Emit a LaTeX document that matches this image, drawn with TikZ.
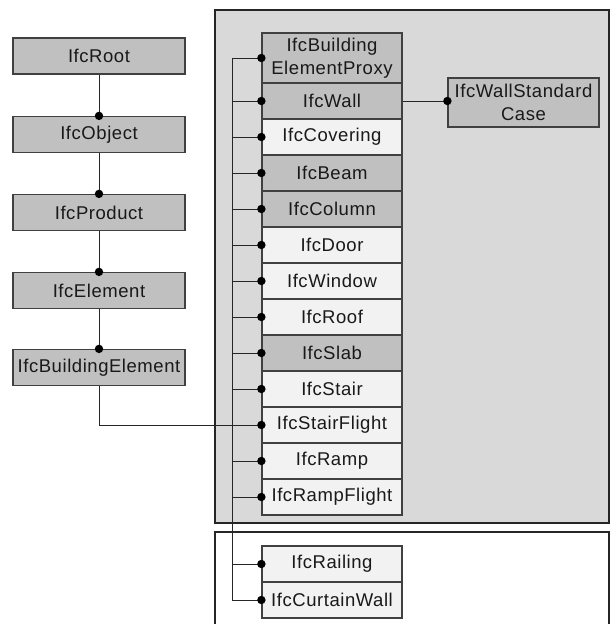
\documentclass[tikz,border=0pt]{standalone}
\usepackage{fontspec}
\setmainfont{Liberation Sans}[LetterSpace=3]
\begin{document}
\definecolor{boxdark}{HTML}{C0C0C0}
\definecolor{boxlight}{HTML}{F2F2F2}
\definecolor{panelgrey}{HTML}{D9D9D9}
\definecolor{edge}{HTML}{404040}
\begin{tikzpicture}[x=1pt,y=-1pt,
  cls/.style={draw=edge,line width=1.2pt,inner sep=0pt,align=center,
    font=\fontsize{18.5}{22.5}\selectfont,text=black!90},
  leftbox/.style={cls,fill=boxdark,minimum width=172pt,minimum height=36pt},
  colbox/.style={cls,minimum width=140pt,minimum height=36pt},
  dark/.style={fill=boxdark},
  light/.style={fill=boxlight},
  link/.style={draw=black!85,line width=1pt},
  dot/.style={fill=black}
]
\useasboundingbox (0,0) rectangle (610,624);

% grouping panels
\draw[fill=panelgrey,draw=black!85,line width=1.3pt] (215,10) rectangle (609,523);
\draw[fill=white,draw=black!85,line width=1.3pt] (215,700) -- (215,532) -- (609,532) -- (609,700);

% inheritance chain on the left
\node[leftbox] (root) at (99,56) {IfcRoot};
\node[leftbox] (obj)  at (99,134.5) {IfcObject};
\node[leftbox] (prod) at (99,212.5) {IfcProduct};
\node[leftbox] (elem) at (99,290.5) {IfcElement};
\node[leftbox] (bel)  at (99,367.5) {IfcBuildingElement};

% bus column coordinate
\coordinate (bus) at (232,0);

% subtypes of IfcBuildingElement
\node[colbox,dark,minimum height=50pt] (proxy) at (332,58) {IfcBuilding\\ElementProxy};
\node[colbox,dark]  (wall)  at (332,101) {IfcWall};
\node[colbox,light] (cov)   at (332,137) {IfcCovering};
\node[colbox,dark]  (beam)  at (332,173) {IfcBeam};
\node[colbox,dark]  (col)   at (332,209) {IfcColumn};
\node[colbox,light] (door)  at (332,245) {IfcDoor};
\node[colbox,light] (win)   at (332,281) {IfcWindow};
\node[colbox,light] (roof)  at (332,317) {IfcRoof};
\node[colbox,dark]  (slab)  at (332,353) {IfcSlab};
\node[colbox,light] (stair) at (332,389) {IfcStair};
\node[colbox,light] (sf)    at (332,425) {IfcStairFlight};
\node[colbox,light] (ramp)  at (332,461) {IfcRamp};
\node[colbox,light] (rf)    at (332,497) {IfcRampFlight};
\node[colbox,light] (rail)  at (332,564) {IfcRailing};
\node[colbox,light] (cw)    at (332,600) {IfcCurtainWall};

\node[cls,fill=boxdark,minimum width=151pt,minimum height=49pt] (wsc) at (523.5,102.5) {IfcWallStandard\\Case};

% connectors of the chain
\draw[link] (root.south) -- (obj.north);
\draw[link] (obj.south) -- (prod.north);
\draw[link] (prod.south) -- (elem.north);
\draw[link] (elem.south) -- (bel.north);
\draw[link] (bel.south) |- (sf.west);

% bus to subtypes
\draw[link] (proxy.west) -- (proxy.west -| bus) -- (cw.west -| bus) -- (cw.west);
\foreach \n in {wall,cov,beam,col,door,win,roof,slab,stair,sf,ramp,rf,rail}
  \draw[link] (\n.west -| bus) -- (\n.west);
\draw[link] (wall.east) -- (wall.east -| wsc.west);

% end dots
\foreach \n in {obj,prod,elem,bel}
  \fill[dot] (\n.north) circle (4.2);
\foreach \n in {proxy,wall,cov,beam,col,door,win,roof,slab,stair,sf,ramp,rf,rail,cw}
  \fill[dot] (\n.west) circle (4.2);
\fill[dot] (wall.east -| wsc.west) circle (4.2);
\end{tikzpicture}
\end{document}
